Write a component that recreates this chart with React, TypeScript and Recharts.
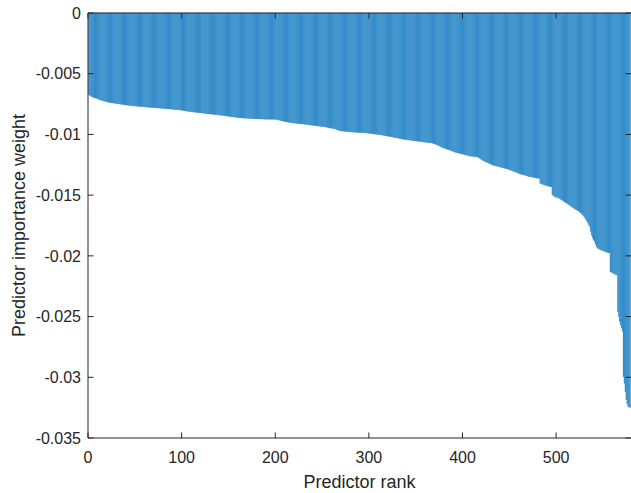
import React from 'react';
import { BarChart, Bar, XAxis, YAxis, ReferenceLine } from 'recharts';

// predictor importance weights, sorted by rank (1..579)
const importanceWeights: number[] = [
  -0.00675, -0.00678, -0.00683, -0.00690, -0.00693, -0.00696, -0.00698, -0.00700, -0.00703, -0.00706, -0.00710, -0.00713, -0.00716, -0.00718, -0.00720, -0.00722, -0.00725, -0.00727, -0.00729, -0.00731,
  -0.00733, -0.00735, -0.00737, -0.00739, -0.00740, -0.00741, -0.00742, -0.00743, -0.00744, -0.00745, -0.00746, -0.00747, -0.00748, -0.00750, -0.00751, -0.00752, -0.00753, -0.00754, -0.00756, -0.00757,
  -0.00758, -0.00759, -0.00760, -0.00761, -0.00762, -0.00763, -0.00764, -0.00764, -0.00765, -0.00766, -0.00767, -0.00767, -0.00768, -0.00769, -0.00769, -0.00770, -0.00771, -0.00771, -0.00772, -0.00773,
  -0.00774, -0.00774, -0.00775, -0.00776, -0.00776, -0.00777, -0.00778, -0.00778, -0.00779, -0.00779, -0.00780, -0.00781, -0.00781, -0.00782, -0.00783, -0.00783, -0.00784, -0.00785, -0.00785, -0.00786,
  -0.00787, -0.00787, -0.00788, -0.00789, -0.00789, -0.00790, -0.00791, -0.00791, -0.00792, -0.00793, -0.00793, -0.00794, -0.00795, -0.00795, -0.00796, -0.00797, -0.00797, -0.00798, -0.00799, -0.00800,
  -0.00801, -0.00803, -0.00805, -0.00806, -0.00808, -0.00809, -0.00810, -0.00811, -0.00812, -0.00813, -0.00814, -0.00815, -0.00816, -0.00817, -0.00818, -0.00819, -0.00819, -0.00820, -0.00821, -0.00822,
  -0.00823, -0.00824, -0.00825, -0.00826, -0.00827, -0.00828, -0.00829, -0.00830, -0.00831, -0.00832, -0.00832, -0.00833, -0.00834, -0.00835, -0.00836, -0.00837, -0.00837, -0.00838, -0.00839, -0.00840,
  -0.00841, -0.00842, -0.00843, -0.00844, -0.00845, -0.00846, -0.00847, -0.00848, -0.00849, -0.00851, -0.00852, -0.00853, -0.00854, -0.00855, -0.00856, -0.00857, -0.00858, -0.00859, -0.00860,
  -0.00861, -0.00862, -0.00863, -0.00863, -0.00864, -0.00865, -0.00865, -0.00866, -0.00866, -0.00867, -0.00867, -0.00868, -0.00868, -0.00869, -0.00869, -0.00869, -0.00870, -0.00870, -0.00871, -0.00871,
  -0.00871, -0.00872, -0.00872, -0.00872, -0.00873, -0.00873, -0.00873, -0.00873, -0.00874, -0.00874, -0.00874, -0.00874, -0.00875, -0.00875, -0.00875, -0.00875, -0.00875, -0.00876, -0.00876, -0.00876,
  -0.00876, -0.00877, -0.00878, -0.00880, -0.00882, -0.00884, -0.00886, -0.00888, -0.00890, -0.00891, -0.00893, -0.00894, -0.00896, -0.00897, -0.00899, -0.00900, -0.00901, -0.00903, -0.00904, -0.00905,
  -0.00906, -0.00907, -0.00908, -0.00909, -0.00910, -0.00911, -0.00912, -0.00913, -0.00914, -0.00914, -0.00915, -0.00916, -0.00917, -0.00918, -0.00919, -0.00920, -0.00921, -0.00922, -0.00923, -0.00924,
  -0.00925, -0.00926, -0.00927, -0.00928, -0.00929, -0.00930, -0.00931, -0.00932, -0.00933, -0.00934, -0.00935, -0.00936, -0.00937, -0.00938, -0.00939, -0.00941, -0.00942, -0.00944, -0.00946, -0.00948,
  -0.00949, -0.00950, -0.00951, -0.00952, -0.00955, -0.00958, -0.00961, -0.00964, -0.00966, -0.00969, -0.00970, -0.00971, -0.00972, -0.00973, -0.00974, -0.00975, -0.00976, -0.00977, -0.00978, -0.00979,
  -0.00980, -0.00980, -0.00981, -0.00981, -0.00982, -0.00982, -0.00983, -0.00983, -0.00984, -0.00984, -0.00985, -0.00985, -0.00986, -0.00986, -0.00987, -0.00987, -0.00988, -0.00988, -0.00989, -0.00990,
  -0.00991, -0.00992, -0.00993, -0.00994, -0.00995, -0.00996, -0.00997, -0.00998, -0.00999, -0.01000, -0.01001, -0.01002, -0.01003, -0.01004, -0.01005, -0.01006, -0.01008, -0.01009, -0.01011, -0.01012,
  -0.01014, -0.01015, -0.01017, -0.01018, -0.01020, -0.01021, -0.01023, -0.01024, -0.01026, -0.01027, -0.01029, -0.01030, -0.01032, -0.01033, -0.01035, -0.01036, -0.01038, -0.01040, -0.01041, -0.01042,
  -0.01043, -0.01044, -0.01045, -0.01046, -0.01047, -0.01048, -0.01049, -0.01051, -0.01052, -0.01053, -0.01054, -0.01055, -0.01056, -0.01057, -0.01058, -0.01059, -0.01060, -0.01061, -0.01062,
  -0.01063, -0.01064, -0.01065, -0.01066, -0.01067, -0.01068, -0.01068, -0.01069, -0.01070, -0.01072, -0.01075, -0.01078, -0.01081, -0.01084, -0.01087, -0.01090, -0.01093, -0.01097, -0.01101, -0.01105,
  -0.01109, -0.01112, -0.01114, -0.01117, -0.01120, -0.01122, -0.01125, -0.01128, -0.01131, -0.01134, -0.01137, -0.01140, -0.01143, -0.01146, -0.01148, -0.01150, -0.01152, -0.01154, -0.01156, -0.01158,
  -0.01160, -0.01162, -0.01164, -0.01166, -0.01168, -0.01170, -0.01172, -0.01174, -0.01176, -0.01178, -0.01179, -0.01180, -0.01181, -0.01181, -0.01182, -0.01182, -0.01183, -0.01186, -0.01190, -0.01195,
  -0.01200, -0.01205, -0.01210, -0.01214, -0.01218, -0.01222, -0.01226, -0.01230, -0.01234, -0.01237, -0.01240, -0.01244, -0.01248, -0.01252, -0.01254, -0.01256, -0.01258, -0.01260, -0.01262, -0.01264,
  -0.01266, -0.01268, -0.01270, -0.01272, -0.01274, -0.01276, -0.01278, -0.01280, -0.01282, -0.01284, -0.01287, -0.01290, -0.01293, -0.01296, -0.01299, -0.01302, -0.01305, -0.01308, -0.01311, -0.01314,
  -0.01317, -0.01320, -0.01323, -0.01326, -0.01329, -0.01331, -0.01333, -0.01335, -0.01337, -0.01339, -0.01342, -0.01344, -0.01346, -0.01348, -0.01349, -0.01350, -0.01352, -0.01354, -0.01355,
  -0.01357, -0.01359, -0.01360, -0.01361, -0.01362, -0.01402, -0.01406, -0.01409, -0.01412, -0.01415, -0.01418, -0.01421, -0.01423, -0.01425, -0.01427, -0.01429, -0.01430, -0.01432, -0.01495, -0.01505,
  -0.01510, -0.01514, -0.01517, -0.01520, -0.01522, -0.01524, -0.01529, -0.01534, -0.01540, -0.01545, -0.01550, -0.01555, -0.01560, -0.01565, -0.01570, -0.01576, -0.01582, -0.01587, -0.01592, -0.01598,
  -0.01603, -0.01608, -0.01613, -0.01618, -0.01622, -0.01626, -0.01631, -0.01636, -0.01644, -0.01652, -0.01660, -0.01668, -0.01678, -0.01690, -0.01702, -0.01715, -0.01730, -0.01745, -0.01760, -0.01800,
  -0.01830, -0.01850, -0.01870, -0.01878, -0.01900, -0.01920, -0.01935, -0.01940, -0.01944, -0.01948, -0.01952, -0.01955, -0.01958, -0.01961, -0.01964, -0.01967, -0.01970, -0.01972, -0.01974, -0.01976,
  -0.02130, -0.02135, -0.02140, -0.02144, -0.02148, -0.02152, -0.02155, -0.02158, -0.02460, -0.02500, -0.02540, -0.02570, -0.02594, -0.02620, -0.02995, -0.03050, -0.03120, -0.03187, -0.03220, -0.03242,
  -0.03245, -0.03250,
];

const rankTicks = [0, 100, 200, 300, 400, 500];
const weightTicks = [0, -0.005, -0.01, -0.015, -0.02, -0.025, -0.03, -0.035];

const W = 631;
const H = 493;
const PLOT_TOP = 13;
const PLOT_BOTTOM = 438;
const PLOT_LEFT = 88;
const PLOT_RIGHT = 631;
const AXIS = '#262626';
const BAR = '#2f8ac8';
const FONT = '"Liberation Sans", Arial, Helvetica, sans-serif';
const TICK_LEN = 5.5;
const TICK_FONT = 16;
const LABEL_FONT = 18;

const data = importanceWeights.map((weight, i) => ({ rank: i + 1, weight }));

// MATLAB-style ticks: pointing inward, mirrored on the top / right edges
function RankTick({ x, y, payload }: any) {
  return (
    <g>
      <line x1={x} x2={x} y1={PLOT_BOTTOM} y2={PLOT_BOTTOM - TICK_LEN} stroke={AXIS} />
      <line x1={x} x2={x} y1={PLOT_TOP} y2={PLOT_TOP + TICK_LEN} stroke={AXIS} />
      <text x={x} y={y} dy="0.71em" textAnchor="middle" fill={AXIS} fontSize={TICK_FONT} fontFamily={FONT}>
        {String(payload.value)}
      </text>
    </g>
  );
}

function WeightTick({ x, y, payload }: any) {
  return (
    <g>
      <line x1={PLOT_LEFT} x2={PLOT_LEFT + TICK_LEN} y1={y} y2={y} stroke={AXIS} />
      <line x1={PLOT_RIGHT - TICK_LEN} x2={PLOT_RIGHT} y1={y} y2={y} stroke={AXIS} />
      <text x={x} y={y} dy="0.355em" textAnchor="end" fill={AXIS} fontSize={TICK_FONT} fontFamily={FONT}>
        {String(payload.value)}
      </text>
    </g>
  );
}

export default function App() {
  return (
    <div style={{ position: 'absolute', left: 0, top: 0, background: '#fff' }}>
      <BarChart
        width={W}
        height={H}
        data={data}
        margin={{ top: PLOT_TOP, right: W - PLOT_RIGHT, bottom: 0, left: 0 }}
        barCategoryGap={0}
        barGap={0}
        style={{ fontFamily: FONT }}
      >
        <Bar dataKey="weight" fill={BAR} stroke={BAR} strokeWidth={0.3} isAnimationActive={false} />
        <ReferenceLine y={0} stroke={AXIS} strokeWidth={1} />
        <XAxis
          type="number"
          dataKey="rank"
          domain={[0, 580]}
          ticks={rankTicks}
          interval={0}
          height={H - PLOT_BOTTOM}
          tickLine={false}
          tickSize={0}
          tickMargin={14}
          tick={<RankTick />}
          axisLine={{ stroke: AXIS }}
          label={{ value: 'Predictor rank', position: 'insideBottom', offset: 5.5, fill: AXIS, fontSize: LABEL_FONT }}
        />
        <YAxis
          type="number"
          domain={[-0.035, 0]}
          ticks={weightTicks}
          interval={0}
          width={PLOT_LEFT}
          tickLine={false}
          tickSize={0}
          tickMargin={7}
          tick={<WeightTick />}
          axisLine={{ stroke: AXIS }}
          label={{
            value: 'Predictor importance weight',
            angle: -90,
            position: 'insideLeft',
            offset: 19,
            fill: AXIS,
            fontSize: LABEL_FONT,
            style: { textAnchor: 'middle' },
          }}
        />
      </BarChart>
    </div>
  );
}
